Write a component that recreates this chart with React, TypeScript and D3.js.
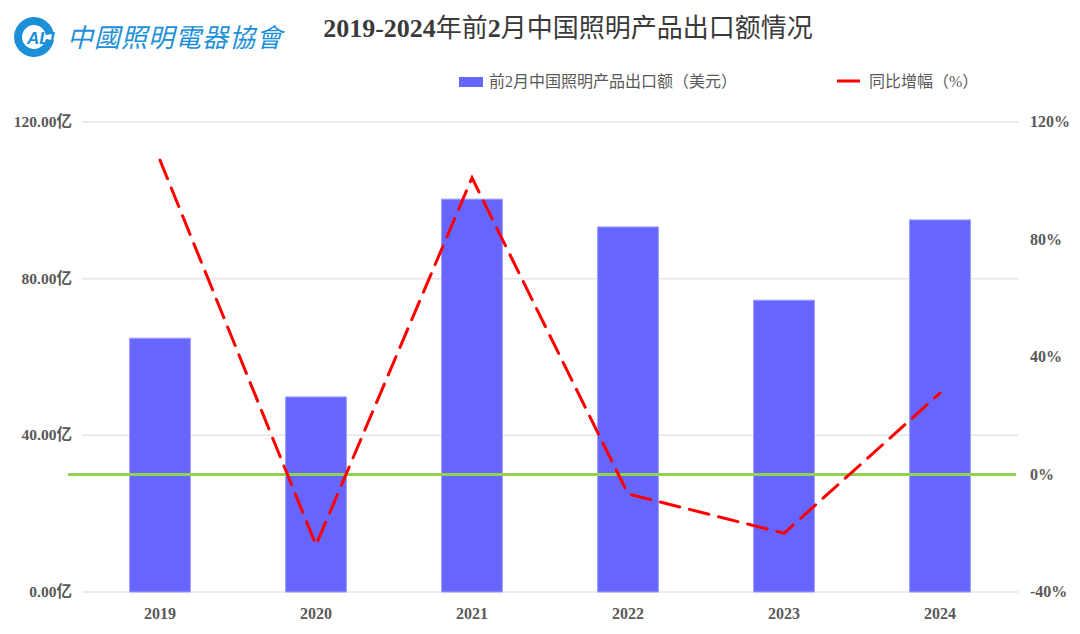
import React from 'react';
import * as d3 from 'd3';

const years = ['2019', '2020', '2021', '2022', '2023', '2024'];
const exportValues = [64.8, 49.8, 100.3, 93.2, 74.5, 95.0]; // 亿美元
const growthRates = [107, -24, 101, -6.6, -20, 27.7]; // %
const leftTicks = [0, 40, 80, 120];
const rightTicks = [-40, 0, 40, 80, 120];

const W = 1080;
const H = 634;
const serif = '"Liberation Serif", "Noto Sans CJK SC", serif';

const xScale = d3.scaleBand<string>().domain(years).range([82, 1018]);
const yLeft = d3.scaleLinear().domain([0, 120]).range([592, 122]);
const yRight = d3.scaleLinear().domain([-40, 120]).range([592, 122]);

const Logo = () => (
  <g>
    <path
      d={d3.arc()({ innerRadius: 12, outerRadius: 20, startAngle: 0.55 * Math.PI, endAngle: 2.45 * Math.PI }) || ''}
      transform="translate(34,37)"
      fill="#1b8fd8"
    />
    <text x={27} y={44} fontFamily="Arial, sans-serif" fontWeight="bold" fontStyle="italic" fontSize={17} fill="#1b8fd8">
      ALI
    </text>
    <text x={67} y={47} fontFamily='"Noto Sans CJK TC", sans-serif' fontSize={26} fill="#1b8fd8" letterSpacing={1} fontStyle="italic">
      中國照明電器協會
    </text>
  </g>
);

export default function App() {
  const barW = xScale.bandwidth() * 0.39;
  const line = d3.line<number>()
    .x((_, i) => (xScale(years[i]) || 0) + xScale.bandwidth() / 2)
    .y((d) => yRight(d));

  return (
    <svg width={W} height={H} style={{ position: 'absolute', left: 0, top: 0, background: '#fff' }}>
      <rect width={W} height={H} fill="#fff" />
      <Logo />
      <text x={568} y={37} textAnchor="middle" fontFamily={serif} fontSize={26} fill="#3a3a3a">
        <tspan fontWeight="bold">2019-2024</tspan>
        <tspan>年前</tspan>
        <tspan fontWeight="bold">2</tspan>
        <tspan>月中国照明产品出口额情况</tspan>
      </text>

      {/* legend */}
      <rect x={459} y={77} width={24} height={10} fill="#6666ff" />
      <text x={489} y={87} fontFamily={serif} fontSize={16} fill="#595959">前2月中国照明产品出口额（美元）</text>
      <line x1={837} x2={860} y1={81} y2={81} stroke="#ff0000" strokeWidth={3} />
      <text x={869} y={87} fontFamily={serif} fontSize={16} fill="#595959">同比增幅（%）</text>

      {/* grid */}
      {leftTicks.map((t) => (
        <line key={t} x1={82} x2={1018} y1={yLeft(t)} y2={yLeft(t)} stroke="#e6e6e6" strokeWidth={1.5} />
      ))}
      {leftTicks.map((t) => (
        <text key={t} x={72} y={yLeft(t) + 5} textAnchor="end" fontFamily={serif} fontWeight="bold" fontSize={15.5} fill="#595959">
          {t.toFixed(2)}亿
        </text>
      ))}
      {rightTicks.map((t) => (
        <text key={t} x={1030} y={yRight(t) + 5} fontFamily={serif} fontWeight="bold" fontSize={16} fill="#595959">
          {t}%
        </text>
      ))}

      {/* bars */}
      {exportValues.map((v, i) => (
        <rect
          key={years[i]}
          x={(xScale(years[i]) || 0) + (xScale.bandwidth() - barW) / 2}
          y={yLeft(v)}
          width={barW}
          height={yLeft(0) - yLeft(v)}
          fill="#6666ff"
          stroke="#9c9cff"
          strokeWidth={1}
        />
      ))}
      {years.map((y) => (
        <text key={y} x={(xScale(y) || 0) + xScale.bandwidth() / 2} y={619} textAnchor="middle" fontFamily={serif} fontWeight="bold" fontSize={16} fill="#595959">
          {y}
        </text>
      ))}

      {/* zero reference line */}
      <line x1={68} x2={1016} y1={yRight(0)} y2={yRight(0)} stroke="#92d050" strokeWidth={3} />

      {/* growth line */}
      <path d={line(growthRates) || ''} fill="none" stroke="#ff0000" strokeWidth={3} strokeDasharray="20 10" strokeLinecap="round" />
    </svg>
  );
}
